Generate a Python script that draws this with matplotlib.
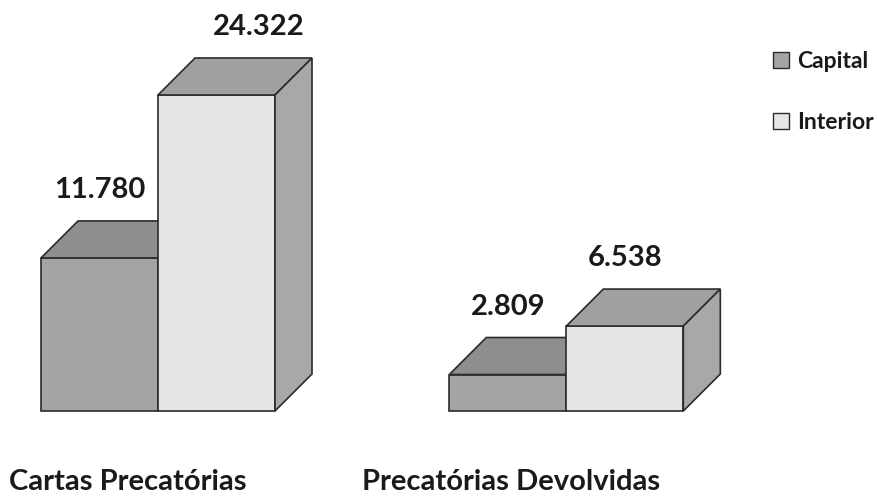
import matplotlib.pyplot as plt
from matplotlib.patches import Polygon, Patch

# Dados
categorias = ["Cartas Precatórias", "Precatórias Devolvidas"]
capital = [11780, 2809]
interior = [24322, 6538]
series = ["Capital", "Interior"]

# cores (frente, topo, lado)
cores = {
    "Capital": ("#a4a4a4", "#8e8e8e", "#979797"),
    "Interior": ("#e6e6e6", "#a0a0a0", "#a8a8a8"),
}
borda = "#2b2b2b"
fonte = ["Lato", "DejaVu Sans"]

W, H = 878, 497
fig = plt.figure(figsize=(W / 100, H / 100), dpi=100)
ax = fig.add_axes([0, 0, 1, 1])
ax.set_axis_off()

# escala: 1 unidade em x = largura de uma barra (117 px)
px_x = 117.0
units_per_px = 24322 / 316.0
ax.set_xlim(-158 / px_x, (W - 158) / px_x)
ax.set_ylim(-86 * units_per_px, (H - 86) * units_per_px)

centros = [0.0, 3.49]
largura = 1.0
dx = 37 / px_x
dy = 37 * units_per_px


def caixa(x0, v, nome):
    frente, topo, lado = cores[nome]
    x1 = x0 + largura
    ax.add_patch(Polygon([(x0, 0), (x1, 0), (x1, v), (x0, v)], closed=True,
                         facecolor=frente, edgecolor=borda, lw=1.2, zorder=2))
    ax.add_patch(Polygon([(x0, v), (x1, v), (x1 + dx, v + dy), (x0 + dx, v + dy)],
                         closed=True, facecolor=topo, edgecolor=borda, lw=1.2, zorder=2))
    ax.add_patch(Polygon([(x1, 0), (x1 + dx, dy), (x1 + dx, v + dy), (x1, v)],
                         closed=True, facecolor=lado, edgecolor=borda, lw=1.2, zorder=2))


for i, c in enumerate(centros):
    caixa(c - largura, capital[i], "Capital")
    caixa(c, interior[i], "Interior")

# rótulos de valores
rot_off = [(0.0, 0.0), (0.36, 0.0)]
for i, c in enumerate(centros):
    for j, (x0, v) in enumerate([(c - largura, capital[i]), (c, interior[i])]):
        txt = f"{v:,}".replace(",", ".")
        ox = rot_off[j][0] if i == 0 else 0.0
        ax.text(x0 + largura / 2 + ox, v + dy + 31 * units_per_px, txt,
                ha="center", va="center", fontsize=21, fontweight="bold",
                family=fonte, color="#1a1a1a")

# rótulos das categorias
cat_off = [-30 / px_x, -55 / px_x]
for i, c in enumerate(centros):
    ax.text(c + cat_off[i], -71 * units_per_px, categorias[i], ha="center",
            va="center", fontsize=21, fontweight="bold", family=fonte,
            color="#1a1a1a")

handles = [Patch(facecolor=cores[s][0], edgecolor=borda, lw=1.0, label=s)
           for s in series]
leg = fig.legend(handles=handles, loc="upper left", bbox_to_anchor=(752 / W, 1 - 30 / H),
                 frameon=False, handlelength=0.7, handleheight=0.7, handletextpad=0.35,
                 labelspacing=1.75, prop={"family": fonte, "size": 16.5, "weight": "bold"})
for t in leg.get_texts():
    t.set_color("#1a1a1a")

fig.savefig("out.png", dpi=100, facecolor="white")
